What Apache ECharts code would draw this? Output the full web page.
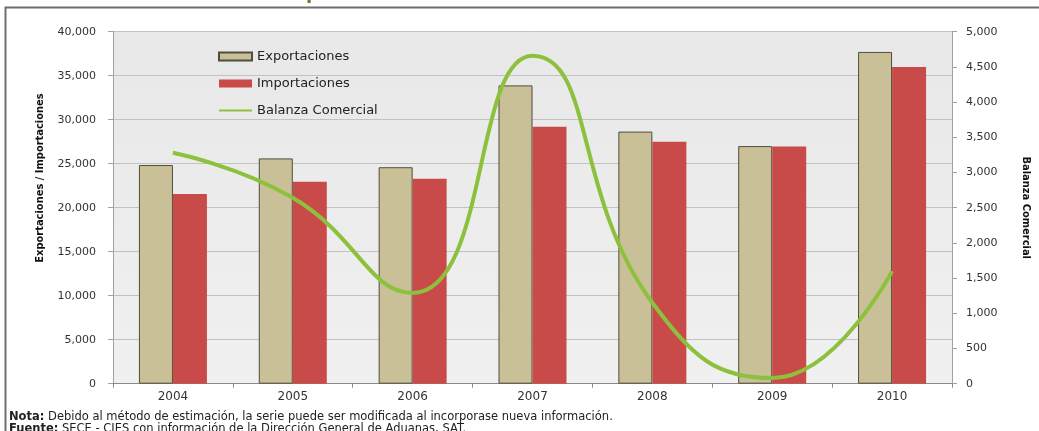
<!DOCTYPE html>
<html>
<head>
<meta charset="utf-8">
<script src="https://cdn.jsdelivr.net/npm/echarts@6/dist/echarts.min.js"></script>
<style>
html,body{margin:0;padding:0;background:#fff;}
#c{width:1039px;height:431px;}
</style>
</head>
<body>
<div id="c"></div>
<script>
const years = ['2004','2005','2006','2007','2008','2009','2010'];
const exportaciones = [24850, 25600, 24600, 33900, 28650, 27000, 37700];
const importaciones = [21550, 22950, 23300, 29200, 27500, 26950, 36000];
const balanza = [3280, 2640, 1290, 4660, 1150, 80, 1600];
const leftTicks = {min: 0, max: 40000, interval: 5000};
const rightTicks = {min: 0, max: 5000, interval: 500};
const seriesNames = ['Exportaciones', 'Importaciones', 'Balanza Comercial'];
const noteLine = 'Debido al método de estimación, la serie puede ser modificada al incorporase nueva información.';
const sourceLine = 'SECE - CIES con información de la Dirección General de Aduanas, SAT.';

const fmt = v => v.toLocaleString('en-US');
const chart = echarts.init(document.getElementById('c'), null, {renderer: 'canvas'});
const tickFont = {fontFamily: 'DejaVu Sans', fontSize: 11, color: '#333'};
const narrow = "'DejaVu Sans Condensed', 'Liberation Sans'";

chart.setOption({
  animation: false,
  backgroundColor: '#fff',
  grid: {
    left: 113, right: 86, top: 31.7, bottom: 47.3,
    show: true,
    backgroundColor: new echarts.graphic.LinearGradient(0, 0, 0, 1, [
      {offset: 0, color: '#e8e8e8'}, {offset: 1, color: '#f0f0f0'}
    ]),
    borderWidth: 0
  },
  legend: {
    orient: 'vertical',
    left: 213, top: 45,
    itemWidth: 33, itemHeight: 8, itemGap: 14,
    textStyle: {fontFamily: 'DejaVu Sans', fontSize: 13, color: '#222'},
    data: [
      {name: seriesNames[0], icon: 'rect'},
      {name: seriesNames[1], icon: 'rect'},
      {name: seriesNames[2], itemStyle: {opacity: 0}}
    ]
  },
  xAxis: {
    type: 'category',
    data: years,
    axisLine: {lineStyle: {color: '#8a8a8a'}},
    axisTick: {show: true, length: 4, lineStyle: {color: '#8a8a8a'}},
    axisLabel: Object.assign({margin: 7}, tickFont, {fontSize: 12})
  },
  yAxis: [
    {
      type: 'value', min: leftTicks.min, max: leftTicks.max, interval: leftTicks.interval,
      axisLine: {show: true, lineStyle: {color: '#a0a0a0'}},
      axisTick: {show: true, length: 5, lineStyle: {color: '#a0a0a0'}},
      splitLine: {lineStyle: {color: '#c2c2c2'}},
      axisLabel: Object.assign({margin: 17, formatter: fmt}, tickFont)
    },
    {
      type: 'value', min: rightTicks.min, max: rightTicks.max, interval: rightTicks.interval,
      name: 'Balanza Comercial', nameLocation: 'middle', nameGap: 68, nameRotate: -90,
      nameTextStyle: {fontFamily: narrow, fontWeight: 'bold', fontSize: 11, color: '#111'},
      axisLine: {show: true, lineStyle: {color: '#a0a0a0'}},
      axisTick: {show: true, length: 5, lineStyle: {color: '#a0a0a0'}},
      splitLine: {show: false},
      axisLabel: Object.assign({margin: 14, formatter: fmt}, tickFont)
    }
  ],
  series: [
    {
      name: seriesNames[0], type: 'bar', data: exportaciones, barWidth: 34, barGap: '0%',
      itemStyle: {color: '#c9c097', borderColor: '#4f4d3c', borderWidth: 1}
    },
    {
      name: seriesNames[1], type: 'bar', data: importaciones, barWidth: 34, barGap: '0%',
      itemStyle: {color: '#c94b49'}
    },
    {
      name: seriesNames[2], type: 'line', yAxisIndex: 1, data: balanza, smooth: 0.5,
      symbol: 'none', lineStyle: {color: '#8dc13d', width: 4}, itemStyle: {color: '#8dc13d'}, z: 5
    }
  ],
  graphic: [
    {type: 'rect', shape: {x: 5.5, y: 7.5, width: 1040, height: 430}, style: {fill: 'none', stroke: '#6e6e6e', lineWidth: 2}, z: -1, silent: true},
    {type: 'text', x: 306, y: -15, style: {text: 'p', fontFamily: 'DejaVu Sans', fontSize: 18, fontWeight: 'bold', fill: '#6f7a2a', verticalAlign: 'top'}},
    {type: 'text', x: 40, y: 178, rotation: Math.PI / 2,
      style: {text: 'Exportaciones / Importaciones', fontFamily: narrow, fontWeight: 'bold', fontSize: 11, fill: '#111', textAlign: 'center', textVerticalAlign: 'middle'}},
    {type: 'text', x: 9, y: 417,
      style: {text: '{b|Nota:} ' + noteLine, fontFamily: 'DejaVu Sans', fontSize: 11.5, fill: '#222', textVerticalAlign: 'middle',
        rich: {b: {fontWeight: 'bold', fontFamily: 'DejaVu Sans', fontSize: 11.5, fill: '#222'}}}},
    {type: 'text', x: 9, y: 429,
      style: {text: '{b|Fuente:} ' + sourceLine, fontFamily: 'DejaVu Sans', fontSize: 11.5, fill: '#222', textVerticalAlign: 'middle',
        rich: {b: {fontWeight: 'bold', fontFamily: 'DejaVu Sans', fontSize: 11.5, fill: '#222'}}}}
  ]
});
</script>
</body>
</html>
